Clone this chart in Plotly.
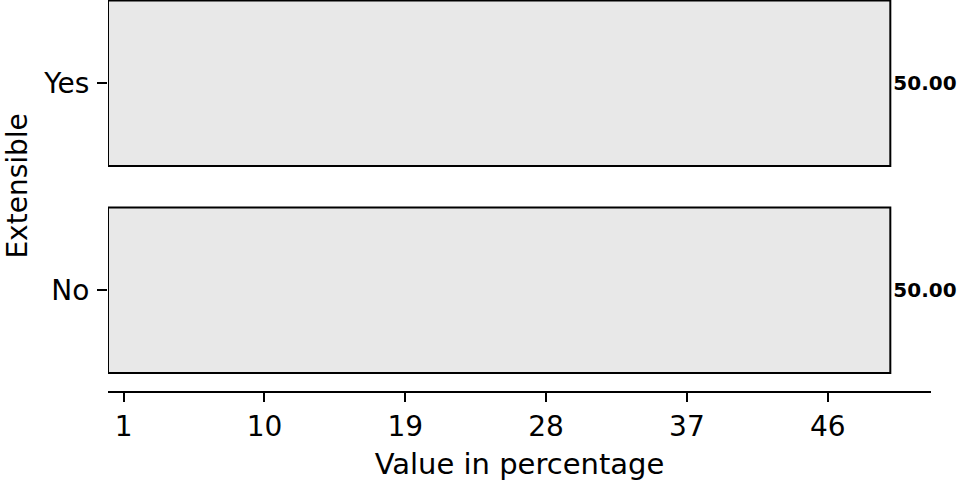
import plotly.graph_objects as go

# --- Data ---
categories = ["No", "Yes"]
values = [50.0, 50.0]
x_ticks = [1, 10, 19, 28, 37, 46]

FONT = "DejaVu Sans"

fig = go.Figure(
    go.Bar(
        x=values,
        y=categories,
        orientation="h",
        width=0.8,
        marker=dict(color="#e8e8e8", line=dict(color="black", width=2)),
        texttemplate="<b>%{x:.2f}</b>",
        textposition="outside",
        textfont=dict(family=FONT, size=20, color="black"),
        cliponaxis=False,
        showlegend=False,
    )
)

fig.update_layout(
    width=957,
    height=481,
    margin=dict(l=108, r=26, t=0, b=90, autoexpand=False),
    paper_bgcolor="white",
    plot_bgcolor="white",
    font=dict(family=FONT, size=28, color="black"),
    bargap=0.2,
)

fig.update_xaxes(
    range=[0, 52.6],
    tickvals=x_ticks,
    ticks="outside",
    ticklen=9,
    tickwidth=2,
    tickcolor="black",
    showline=True,
    linecolor="black",
    linewidth=2,
    showgrid=False,
    zeroline=False,
    automargin=False,
    title=dict(text="Value in percentage", standoff=12, font=dict(size=29)),
)

fig.update_yaxes(
    range=[-0.487, 1.402],
    ticks="outside",
    ticklen=10,
    tickwidth=2,
    tickcolor="black",
    ticklabelstandoff=2,
    showline=False,
    showgrid=False,
    zeroline=False,
    automargin=False,
)

# y title as an annotation so it can sit where the original puts it
fig.add_annotation(
    text="Extensible",
    xref="paper", yref="paper",
    x=-0.110, y=0.524,
    xanchor="center", yanchor="middle",
    textangle=-90,
    showarrow=False,
    borderpad=0,
    font=dict(size=28),
)

# page body has a default 8px margin; drop it so the figure sits at the corner
fig.write_html(
    "out.html",
    config={"displayModeBar": False},
    post_script="document.body.style.margin='0';",
)
